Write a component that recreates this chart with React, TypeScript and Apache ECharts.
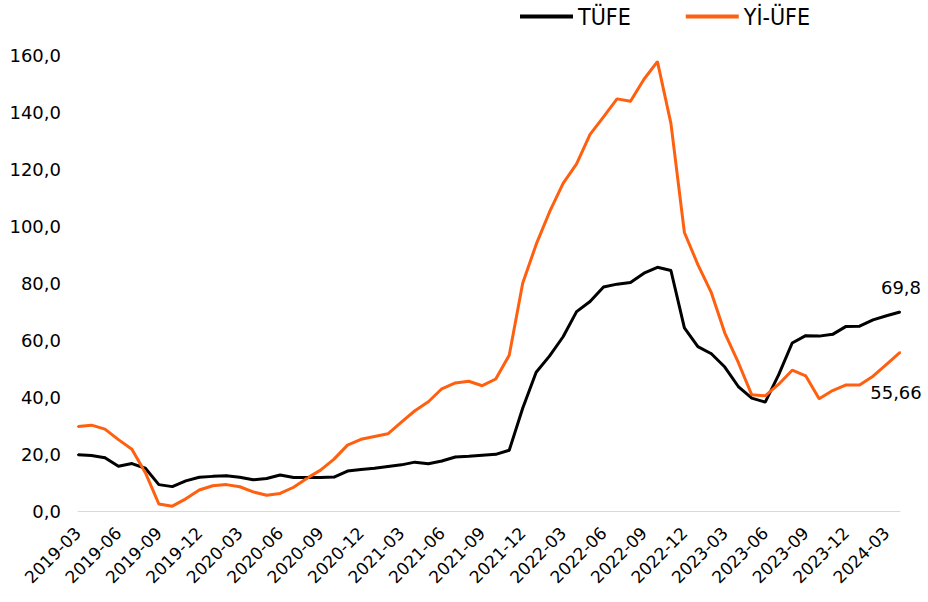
import React, { useEffect, useRef } from "react";
import * as echarts from "echarts";

const categories: string[] = [];
for (let y = 2019; y <= 2024; y++) {
  for (let m = 1; m <= 12; m++) {
    if (y === 2019 && m < 3) continue;
    if (y === 2024 && m > 4) continue;
    categories.push(`${y}-${String(m).padStart(2, "0")}`);
  }
}

const tufe = [
  19.71, 19.5, 18.71, 15.72, 16.65, 15.01, 9.26, 8.55, 10.56, 11.84,
  12.15, 12.37, 11.86, 10.94, 11.39, 12.62, 11.76, 11.77, 11.75, 11.89, 14.03, 14.6,
  14.97, 15.61, 16.19, 17.14, 16.59, 17.53, 18.95, 19.25, 19.58, 19.89, 21.31, 36.08,
  48.69, 54.44, 61.14, 69.97, 73.5, 78.62, 79.6, 80.21, 83.45, 85.51, 84.39, 64.27,
  57.68, 55.18, 50.51, 43.68, 39.59, 38.21, 47.83, 58.94, 61.53, 61.36, 61.98, 64.77,
  64.86, 67.07, 68.5, 69.8,
];

const yiufe = [
  29.64, 30.12, 28.71, 25.04, 21.66, 13.45, 2.45, 1.7, 4.26, 7.36,
  8.84, 9.26, 8.5, 6.71, 5.53, 6.17, 8.33, 11.53, 14.33, 18.2, 23.11, 25.15,
  26.16, 27.09, 31.2, 35.17, 38.33, 42.89, 44.92, 45.52, 43.96, 46.31, 54.62, 79.89,
  93.53, 105.01, 114.97, 121.82, 132.16, 138.31, 144.61, 143.75, 151.5, 157.69, 136.02, 97.72,
  86.46, 76.61, 62.45, 52.11, 40.76, 40.42, 44.5, 49.41, 47.44, 39.39, 42.25, 44.22,
  44.2, 47.29, 51.47, 55.66,
];

const endLabels = ["69,8", "55,66"];

const FONT = "'DejaVu Sans', sans-serif";
const LEGEND_FONT = "'Liberation Sans Narrow', 'DejaVu Sans Condensed', sans-serif";

export default function App() {
  const ref = useRef<HTMLDivElement>(null);
  useEffect(() => {
    if (!ref.current) return;
    const chart = echarts.init(ref.current, undefined, { renderer: "svg" });
    const last = tufe.length - 1;
    chart.setOption({
      animation: false,
      backgroundColor: "#fff",
      textStyle: { fontFamily: FONT },
      legend: {
        left: 515,
        top: 0,
        itemWidth: 53,
        itemHeight: 4,
        itemGap: 55,
        icon: "rect",
        textStyle: { fontFamily: LEGEND_FONT, fontSize: 23, color: "#000" },
        data: ["TÜFE", "Yİ-ÜFE"],
      },
      grid: { left: 78, right: 28, top: 55, bottom: 91 },
      xAxis: {
        type: "category",
        data: categories,
        boundaryGap: false,
        axisLine: { lineStyle: { color: "#d9d9d9", width: 1 } },
        axisTick: { show: false },
        axisLabel: {
          interval: 2,
          rotate: 45,
          margin: 19,
          fontFamily: FONT,
          fontSize: 17,
          color: "#000",
        },
      },
      yAxis: {
        type: "value",
        min: 0,
        max: 160,
        interval: 20,
        splitLine: { show: false },
        axisLine: { show: false },
        axisTick: { show: false },
        axisLabel: {
          margin: 17,
          fontFamily: FONT,
          fontSize: 18,
          color: "#000",
          formatter: (v: number) => v.toFixed(1).replace(".", ","),
        },
      },
      series: [
        {
          name: "TÜFE",
          type: "line",
          data: tufe.map((v, i) =>
            i === last
              ? {
                  value: v,
                  label: {
                    show: true,
                    position: "top",
                    distance: 15,
                    offset: [1, 0],
                    formatter: () => endLabels[0],
                    fontFamily: FONT,
                    fontSize: 18,
                    color: "#000",
                  },
                }
              : v
          ),
          symbol: "circle",
          symbolSize: 2,
          showSymbol: true,
          lineStyle: { color: "#000000", width: 3 },
          itemStyle: { color: "#000000" },
        },
        {
          name: "Yİ-ÜFE",
          type: "line",
          data: yiufe.map((v, i) =>
            i === last
              ? {
                  value: v,
                  label: {
                    show: true,
                    position: "bottom",
                    distance: 30,
                    offset: [-4, 0],
                    formatter: () => endLabels[1],
                    fontFamily: FONT,
                    fontSize: 18,
                    color: "#000",
                  },
                }
              : v
          ),
          symbol: "circle",
          symbolSize: 2,
          showSymbol: true,
          lineStyle: { color: "#FF6010", width: 3 },
          itemStyle: { color: "#FF6010" },
        },
      ],
    });
    return () => chart.dispose();
  }, []);
  return (
    <div
      ref={ref}
      style={{ position: "fixed", left: 0, top: 0, width: 928, height: 602, background: "#fff" }}
    />
  );
}
